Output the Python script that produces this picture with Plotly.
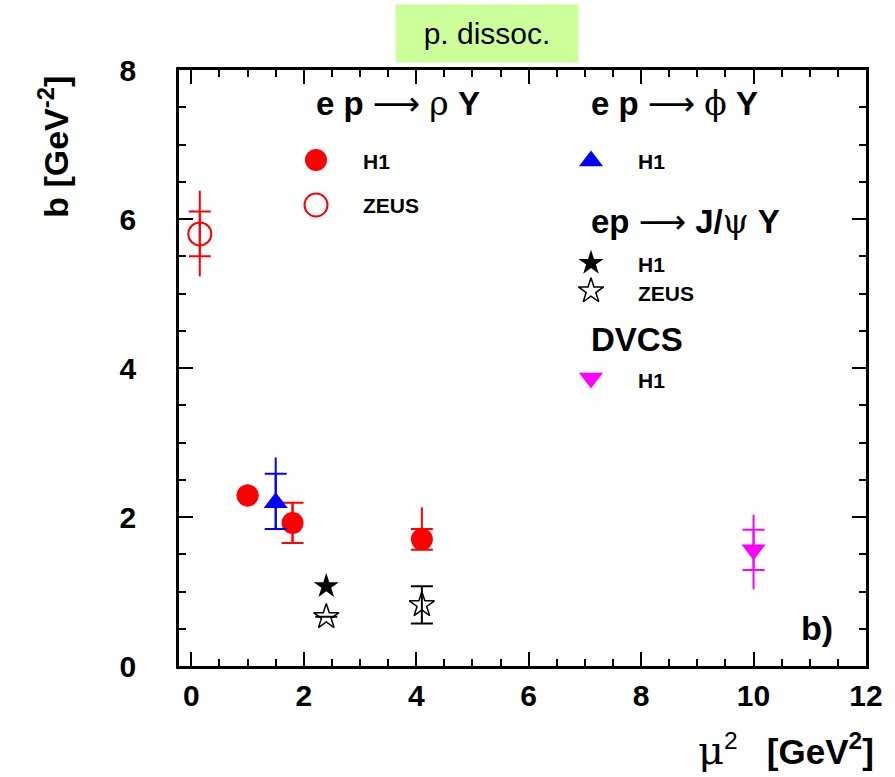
import numpy as np
import plotly.graph_objects as go

# ---- data: slope b versus scale mu^2 (proton-dissociative) ----
# e p -> rho Y, H1
rho_h1_mu2 = [1.0, 1.8, 4.1]
rho_h1_b = [2.29, 1.92, 1.70]
rho_h1_stat = [None, 0.27, 0.14]
rho_h1_tot_up = [0.15, 0.27, 0.43]
rho_h1_tot_dn = [0.15, 0.27, 0.14]

# e p -> rho Y, ZEUS
rho_zeus_mu2 = [0.15]
rho_zeus_b = [5.80]
rho_zeus_stat = [0.30]
rho_zeus_tot_up = [0.58]
rho_zeus_tot_dn = [0.57]

# e p -> phi Y, H1
phi_h1_mu2 = [1.5]
phi_h1_b = [2.19]
phi_h1_stat_up = [0.39]
phi_h1_stat_dn = [0.35]
phi_h1_tot_up = [0.61]
phi_h1_tot_dn = [0.35]

# e p -> J/psi Y
jpsi_h1_mu2 = [2.4]
jpsi_h1_b = [1.07]
jpsi_zeus_mu2 = [2.4, 4.1]
jpsi_zeus_b = [0.66, 0.82]
jpsi_zeus_err = [None, 0.25]

# DVCS, H1
dvcs_h1_mu2 = [10.0]
dvcs_h1_b = [1.56]
dvcs_h1_stat = [0.27]
dvcs_h1_tot_up = [0.47]
dvcs_h1_tot_dn = [0.53]

x_ticks = [0, 2, 4, 6, 8, 10, 12]
y_ticks = [0, 2, 4, 6, 8]
minor_step = 0.5

X_RANGE = [-0.22, 12.0]
Y_RANGE = [0, 8]

RED = "#ff0000"
BLUE = "#0000ff"
MAGENTA = "#ff00ff"
BLACK = "#000000"
FONT = "Liberation Sans"
SERIF = "DejaVu Serif"

W, H = 895, 777
L, R, T, B = 179, 19, 70, 111
PW, PH = W - L - R, H - T - B


def fx(p):
    """pixel column -> paper fraction"""
    return (p - L) / PW


def fy(p):
    """pixel row -> paper fraction"""
    return (H - B - p) / PH


fig = go.Figure()


def err(up, dn=None, width=0, color=BLACK):
    d = dict(type="data", array=up, visible=True, thickness=2,
             width=width, color=color)
    if dn is not None:
        d["symmetric"] = False
        d["arrayminus"] = dn
    return d


def add_series(x, y, color, symbol, size, stat_up=None, stat_dn=None,
               tot_up=None, tot_dn=None, line_w=0):
    if tot_up is not None:
        fig.add_trace(go.Scatter(
            x=x, y=y, mode="markers",
            marker=dict(size=1, color="rgba(0,0,0,0)"),
            error_y=err(tot_up, tot_dn, 0, color),
            showlegend=False, hoverinfo="skip"))
    fig.add_trace(go.Scatter(
        x=x, y=y, mode="markers",
        marker=dict(size=size, color=color, symbol=symbol,
                    line=dict(width=line_w, color=color)),
        error_y=err(stat_up, stat_dn, 11, color) if stat_up is not None else None,
        showlegend=False))


add_series(rho_h1_mu2, rho_h1_b, RED, "circle", 22,
           rho_h1_stat, None, rho_h1_tot_up, rho_h1_tot_dn)
add_series(rho_zeus_mu2, rho_zeus_b, RED, "circle-open", 23,
           rho_zeus_stat, None, rho_zeus_tot_up, rho_zeus_tot_dn, line_w=2)
add_series(phi_h1_mu2, phi_h1_b, BLUE, "triangle-up", 21,
           phi_h1_stat_up, phi_h1_stat_dn, phi_h1_tot_up, phi_h1_tot_dn)
add_series(jpsi_h1_mu2, jpsi_h1_b, BLACK, "star", 19)
add_series(jpsi_zeus_mu2, jpsi_zeus_b, BLACK, "star-open", 19,
           jpsi_zeus_err, None, None, None, line_w=1.5)
add_series(dvcs_h1_mu2, dvcs_h1_b, MAGENTA, "triangle-down", 21,
           dvcs_h1_stat, None, dvcs_h1_tot_up, dvcs_h1_tot_dn)

# invisible anchor point so the long-major-tick overlay axes get drawn
fig.add_trace(go.Scatter(
    x=[X_RANGE[0]], y=[Y_RANGE[0]], xaxis="x3", yaxis="y3", mode="markers",
    marker=dict(size=1, opacity=0), showlegend=False, hoverinfo="skip"))

# ---- legend block: symbols on an overlay axis in plot fractions ----
legend_keys = [
    (318, 160, RED, "circle", 22, 0),
    (318, 205, RED, "circle-open", 23, 2),
    (597, 161, BLUE, "triangle-up", 21, 0),
    (597, 263, BLACK, "star", 19, 0),
    (597, 291, BLACK, "star-open", 19, 1.5),
    (597, 378, MAGENTA, "triangle-down", 21, 0),
]
for px, py, c, s, sz, lw in legend_keys:
    fig.add_trace(go.Scatter(
        x=[fx(px)], y=[fy(py)], xaxis="x2", yaxis="y2", mode="markers",
        marker=dict(size=sz, color=c, symbol=s, line=dict(width=lw, color=c)),
        showlegend=False, hoverinfo="skip"))

ann = []


def text(px, py, s, size, xanchor="left", yanchor="middle", **kw):
    ann.append(dict(x=fx(px), y=fy(py), xref="paper", yref="paper",
                    text=s, showarrow=False, xanchor=xanchor, yanchor=yanchor,
                    font=dict(family=FONT, size=size, color="black"), **kw))


def g(ch, fam=SERIF, size=None):
    extra = f";font-size:{size}px" if size else ""
    return (f"<span style='font-family:{fam};font-weight:normal{extra}'>"
            f"{ch}</span>")


ARROW = g("⟶", "DejaVu Sans")
text(316, 104, f"<b>e p</b> {ARROW} {g('ρ')} <b>Y</b>", 33)
text(595, 104, f"<b>e p</b> {ARROW} {g('ϕ')} <b>Y</b>", 33)
text(595, 221, f"<b>ep</b> {ARROW} <b>J/</b>{g('ψ')} <b>Y</b>", 33)
text(595, 339, "<b>DVCS</b>", 33)
text(364, 161, "<b>H1</b>", 21)
text(364, 205, "<b>ZEUS</b>", 21)
text(643, 161, "<b>H1</b>", 21)
text(643, 264, "<b>H1</b>", 21)
text(643, 293, "<b>ZEUS</b>", 21)
text(643, 380, "<b>H1</b>", 21)
text(845, 628, "<b>b)</b>", 34, xanchor="right")

# axis titles
text(52, 147, "<b>b [GeV<sup>-2</sup>]</b>", 34, xanchor="center",
     textangle=-90)
text(886, 750,
     f"{g('μ', size=40)}<sup>2</sup>&nbsp;&nbsp; <b>[GeV<sup>2</sup>]</b>",
     35, xanchor="right")

# header box
ann.append(dict(x=fx(491), y=fy(34), xref="paper", yref="paper",
                text="p. dissoc.", showarrow=False,
                xanchor="center", yanchor="middle",
                width=182, height=57, bgcolor="#ccff99", borderpad=0,
                font=dict(family=FONT, size=30, color="black")))


def tick_set(major, lo, hi):
    """every minor_step position, labelled only on the major values"""
    vals = [float(v) for v in np.arange(lo, hi + 1e-9, minor_step)]
    labels = [f"<b>{int(v)}</b>" if any(abs(v - m) < 1e-9 for m in major)
              else "" for v in vals]
    return vals, labels


x_vals, x_text = tick_set(x_ticks, 0, X_RANGE[1])
y_vals, y_text = tick_set(y_ticks, Y_RANGE[0], Y_RANGE[1])

axis_common = dict(
    showline=True, linecolor="black", linewidth=2.5, mirror="ticks",
    ticks="inside", ticklen=7, tickwidth=1.5, tickcolor="black",
    showgrid=False, zeroline=False, tickmode="array",
    tickfont=dict(family=FONT, size=30, color="black"),
)
major_overlay = dict(
    showline=False, mirror="ticks", ticks="inside", ticklen=14,
    tickwidth=1.5, tickcolor="black", showgrid=False, zeroline=False,
    showticklabels=False, tickmode="array",
)

fig.update_layout(
    width=W, height=H,
    margin=dict(l=L, r=R, t=T, b=B),
    paper_bgcolor="white", plot_bgcolor="white",
    showlegend=False,
    annotations=ann,
    xaxis=dict(range=X_RANGE, tickvals=x_vals, ticktext=x_text,
               ticklabelstandoff=1, **axis_common),
    yaxis=dict(range=Y_RANGE, tickvals=y_vals, ticktext=y_text,
               ticklabelstandoff=34, **axis_common),
    xaxis2=dict(range=[0, 1], overlaying="x", visible=False),
    yaxis2=dict(range=[0, 1], overlaying="y", visible=False),
    xaxis3=dict(range=X_RANGE, overlaying="x", anchor="y3",
                tickvals=x_ticks, **major_overlay),
    yaxis3=dict(range=Y_RANGE, overlaying="y", anchor="x3",
                tickvals=y_ticks, **major_overlay),
)

fig.write_html("out.html")
